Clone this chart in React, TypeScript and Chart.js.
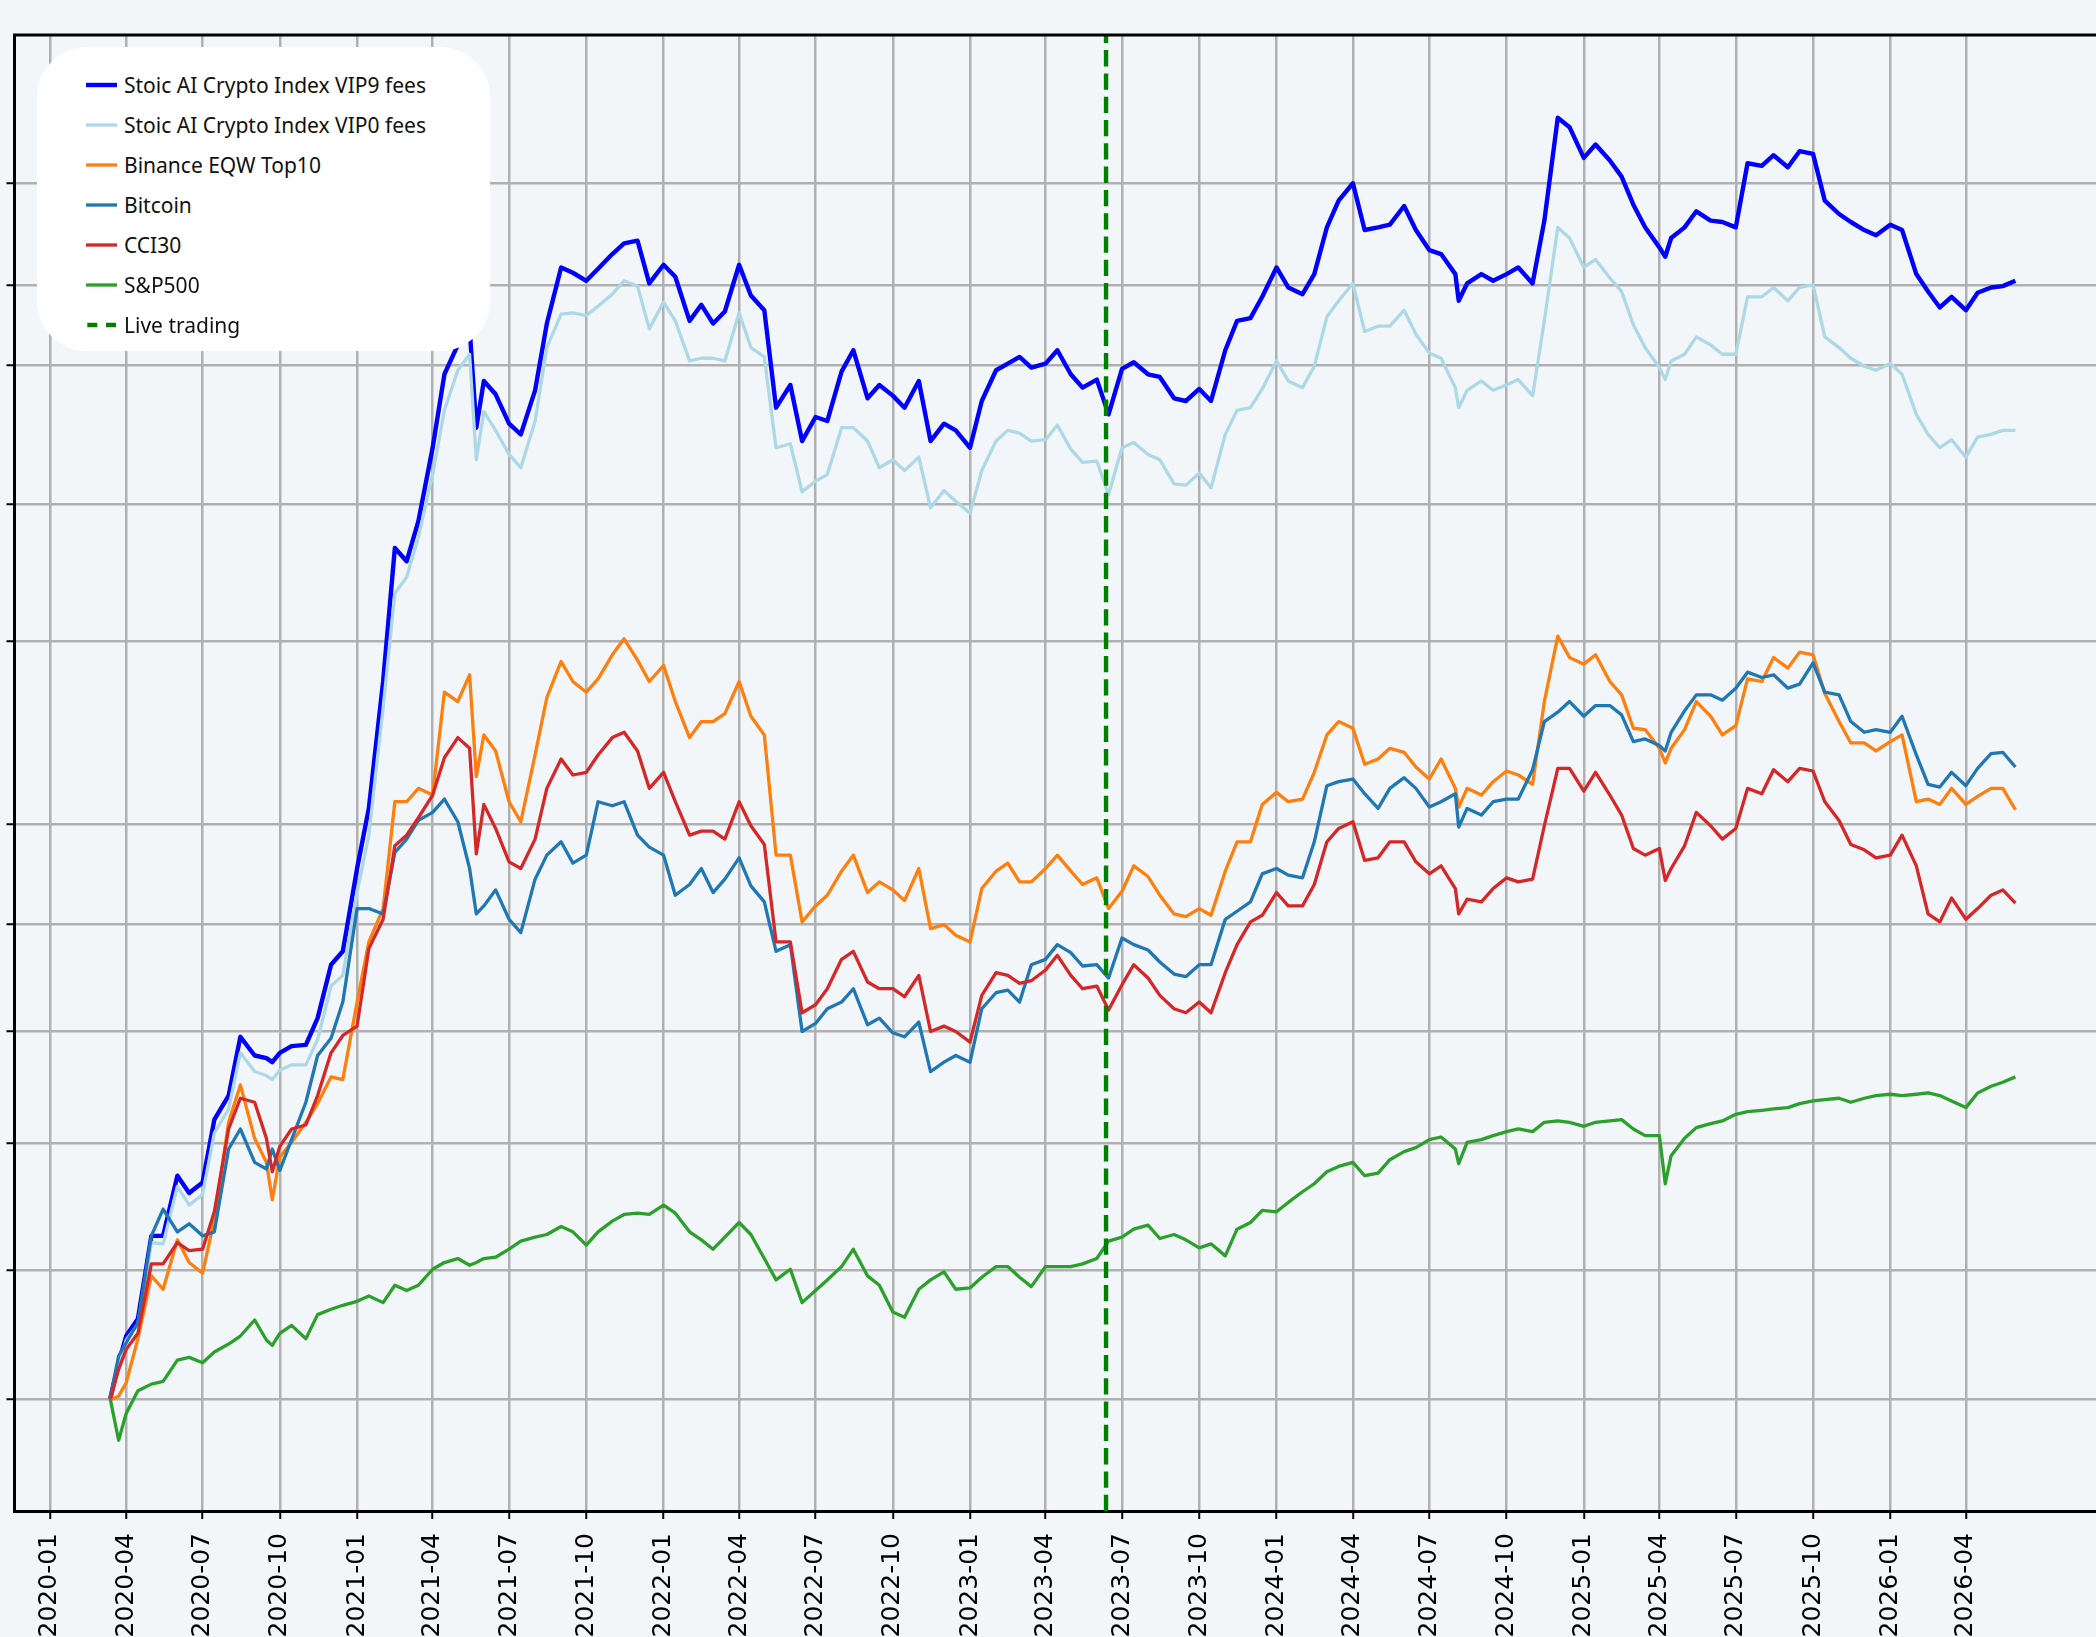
import React, { useEffect, useRef } from 'react';
import { Chart, registerables } from 'chart.js';

Chart.register(...registerables);

// ---- Data (y in chart units, axis labels are hidden) ----
const dates = [
  '2020-03-13','2020-03-23','2020-04-01','2020-04-15','2020-05-01','2020-05-15','2020-06-01','2020-06-15','2020-07-01','2020-07-15',
  '2020-08-01','2020-08-15','2020-09-01','2020-09-15','2020-09-22','2020-10-01','2020-10-15','2020-11-01','2020-11-15','2020-12-01','2020-12-15',
  '2021-01-01','2021-01-15','2021-02-01','2021-02-15','2021-03-01','2021-03-15','2021-04-01','2021-04-15','2021-05-01','2021-05-15','2021-05-23',
  '2021-06-01','2021-06-15','2021-07-01','2021-07-15','2021-08-01','2021-08-15','2021-09-01','2021-09-15','2021-10-01','2021-10-15',
  '2021-11-01','2021-11-15','2021-12-01','2021-12-15','2022-01-01','2022-01-15','2022-02-01','2022-02-15','2022-03-01','2022-03-15',
  '2022-04-01','2022-04-15','2022-05-01','2022-05-15','2022-06-01','2022-06-15','2022-07-01','2022-07-15','2022-08-01','2022-08-15',
  '2022-09-01','2022-09-15','2022-10-01','2022-10-15','2022-11-01','2022-11-15','2022-12-01','2022-12-15','2023-01-01','2023-01-15',
  '2023-02-01','2023-02-15','2023-03-01','2023-03-15','2023-04-01','2023-04-15','2023-05-01','2023-05-15','2023-06-01','2023-06-15',
  '2023-07-01','2023-07-15','2023-08-01','2023-08-15','2023-09-01','2023-09-15','2023-10-01','2023-10-15','2023-11-01','2023-11-15',
  '2023-12-01','2023-12-15','2024-01-01','2024-01-15','2024-02-01','2024-02-15','2024-03-01','2024-03-15','2024-04-01','2024-04-15',
  '2024-05-01','2024-05-15','2024-06-01','2024-06-15','2024-07-01','2024-07-15','2024-08-01','2024-08-05','2024-08-15','2024-09-01','2024-09-15',
  '2024-10-01','2024-10-15','2024-11-01','2024-11-15','2024-12-01','2024-12-15','2025-01-01','2025-01-15','2025-02-01','2025-02-15',
  '2025-03-01','2025-03-15','2025-04-01','2025-04-08','2025-04-15','2025-05-01','2025-05-15','2025-06-01','2025-06-15','2025-07-01','2025-07-15',
  '2025-08-01','2025-08-15','2025-09-01','2025-09-15','2025-10-01','2025-10-15','2025-11-01','2025-11-15','2025-12-01','2025-12-15',
  '2026-01-01','2026-01-15','2026-02-01','2026-02-15','2026-03-01','2026-03-15','2026-04-01','2026-04-15','2026-05-01','2026-05-15',
  '2026-05-30',
];

const vip9 = [
  84,111,131,144,206,206,251,238,246,293,
  311,355,341,339,336,343,348,349,369,409,419,
  481,526,621,721,711,741,796,851,873,886,811,
  846,836,814,806,839,889,931,927,921,930,
  941,949,951,919,933,924,891,903,889,898,
  933,910,899,826,843,801,819,816,853,869,
  833,843,835,826,846,801,814,809,796,831,
  854,859,864,856,859,869,851,841,847,821,
  855,860,851,849,833,831,840,831,869,891,
  893,909,931,916,911,926,961,981,994,959,
  961,963,977,959,944,941,926,906,919,926,921,
  926,931,919,966,1043,1036,1013,1023,1011,999,
  978,961,946,939,953,961,973,966,965,961,1009,
  1007,1015,1006,1018,1016,981,971,965,959,955,
  963,959,926,913,901,909,899,912,916,917,
  921,
];

const vip0 = [
  83,109,128,140,201,200,243,229,237,283,
  301,343,329,326,323,330,334,334,353,393,401,
  463,506,601,687,699,729,776,824,854,866,787,
  823,809,791,781,816,871,896,897,895,902,
  911,921,917,885,905,891,861,863,863,861,
  897,871,864,796,799,763,771,776,811,811,
  801,781,787,779,789,751,764,756,747,779,
  801,809,807,801,802,813,795,785,786,761,
  796,800,791,787,769,768,777,766,806,824,
  826,840,861,846,841,857,894,906,919,883,
  887,887,899,881,867,863,841,826,839,846,839,
  843,847,835,891,961,953,931,937,923,913,
  888,871,856,847,861,866,879,873,866,866,909,
  909,916,906,916,918,879,871,863,857,854,
  859,851,821,806,796,802,789,804,806,809,
  809,
];

const binance = [
  83,86,96,129,176,166,203,186,178,218,
  291,319,279,261,233,265,276,291,305,325,323,
  381,426,451,531,531,541,536,613,606,626,550,
  581,569,531,516,566,609,636,621,613,623,
  641,653,637,621,633,606,579,591,591,597,
  621,595,581,491,491,441,453,461,479,491,
  463,471,465,457,481,436,439,431,426,466,
  479,485,471,471,481,491,479,469,474,451,
  464,483,475,461,447,445,451,446,479,501,
  501,529,538,531,533,553,581,591,586,559,
  563,571,568,557,548,563,541,527,541,536,546,
  554,551,544,606,655,639,634,641,621,611,
  586,585,571,560,571,585,606,595,581,588,623,
  621,639,631,643,641,612,591,575,575,569,
  576,581,531,533,529,541,529,535,541,541,
  525,
];

const bitcoin = [
  85,116,126,141,206,226,209,215,206,209,
  271,286,261,256,271,255,278,306,341,354,381,
  451,451,447,493,503,517,523,533,516,481,447,
  453,465,443,433,473,491,501,485,491,531,
  528,531,506,497,491,461,469,481,463,473,
  489,468,456,419,424,359,365,376,381,391,
  364,369,358,355,366,329,336,341,336,376,
  388,390,381,409,413,424,418,408,409,399,
  429,424,420,411,402,400,409,409,443,449,
  456,477,481,476,474,501,543,546,548,537,
  526,541,549,541,527,531,537,512,526,521,531,
  533,533,555,591,598,606,595,603,603,596,
  576,578,573,569,583,599,611,611,607,616,628,
  624,626,616,619,635,613,611,591,583,585,
  583,595,566,544,542,553,543,556,567,568,
  557,
];

const cci30 = [
  83,106,121,133,185,185,201,195,196,224,
  286,309,306,279,254,273,286,289,311,343,356,
  363,421,443,498,506,519,536,564,579,571,492,
  529,511,486,481,503,541,563,551,553,566,
  579,583,569,541,553,531,506,509,509,503,
  531,513,499,426,426,373,379,391,413,419,
  396,391,391,385,401,359,363,359,351,386,
  403,401,395,397,405,416,401,391,393,375,
  394,409,399,386,376,373,381,373,403,424,
  441,446,463,453,453,469,501,511,516,487,
  489,501,501,486,477,483,466,447,458,456,466,
  474,471,473,513,556,556,539,553,536,521,
  496,491,496,472,481,498,523,513,503,511,541,
  537,555,546,556,554,531,517,499,495,489,
  491,506,483,447,441,459,443,451,461,465,
  455,
];

const sp500 = [
  84,53,73,90,95,97,113,115,111,119,
  125,131,143,128,124,133,139,129,147,151,154,
  157,161,156,169,165,169,181,186,189,184,186,
  189,190,196,202,205,207,213,209,199,209,
  217,222,223,222,229,223,209,203,196,205,
  216,207,189,173,181,156,165,173,183,196,
  176,169,149,145,166,173,179,166,167,175,
  183,183,175,168,183,183,183,185,189,202,
  205,211,214,204,207,203,197,200,191,211,
  216,225,224,231,239,245,254,258,261,251,
  253,263,269,272,278,280,271,260,276,278,281,
  284,286,284,291,292,291,288,291,292,293,
  286,281,281,245,266,279,287,290,292,297,299,
  300,301,302,305,307,308,309,306,309,311,
  312,311,312,313,311,307,302,313,318,321,
  325,
];

const xTickLabels = [
  '2020-01','2020-04','2020-07','2020-10','2021-01','2021-04','2021-07','2021-10',
  '2022-01','2022-04','2022-07','2022-10','2023-01','2023-04','2023-07','2023-10',
  '2024-01','2024-04','2024-07','2024-10','2025-01','2025-04','2025-07','2025-10',
  '2026-01','2026-04',
];

const yGridValues = [84, 180, 275, 359, 439, 514, 651, 754, 858, 918, 994];
const liveTradingDate = '2023-06-12';
const xRange = ['2019-11-20', '2026-09-03'];
const yRange = [0, 1105];

const seriesDefs = [
  { label: 'Stoic AI Crypto Index VIP9 fees', values: vip9, color: '#0000ff', width: 4.4 },
  { label: 'Stoic AI Crypto Index VIP0 fees', values: vip0, color: '#add8e6', width: 3.3 },
  { label: 'Binance EQW Top10', values: binance, color: '#ff7f0e', width: 3.3 },
  { label: 'Bitcoin', values: bitcoin, color: '#1f77b4', width: 3.3 },
  { label: 'CCI30', values: cci30, color: '#d62728', width: 3.3 },
  { label: 'S&P500', values: sp500, color: '#2ca02c', width: 3.3 },
];
const liveDef = { label: 'Live trading', color: '#008000', width: 4.4 };

const dayOf = (s: string) => {
  const [y, m, d] = s.split('-').map(Number);
  return (Date.UTC(y, m - 1, d || 1) - Date.UTC(2020, 0, 1)) / 86400000;
};

const W = 2096;
const H = 1637;
const BG = '#f3f6f9';

export default function App() {
  const ref = useRef<HTMLCanvasElement>(null);

  useEffect(() => {
    const canvas = ref.current;
    if (!canvas) return;
    const xTickDays = xTickLabels.map((l) => dayOf(l + '-01'));
    const labelByDay = new Map<number, string>(xTickDays.map((d, i) => [d, xTickLabels[i]]));
    const xs = dates.map(dayOf);

    const datasets: any[] = seriesDefs.map((s, i) => ({
      label: s.label,
      data: s.values.map((v, j) => ({ x: xs[j], y: v })),
      borderColor: s.color,
      backgroundColor: s.color,
      borderWidth: s.width,
      pointRadius: 0,
      tension: 0,
      fill: false,
      borderJoinStyle: 'round',
      order: seriesDefs.length + 1 - i,
    }));
    const liveDay = dayOf(liveTradingDate);
    datasets.push({
      label: liveDef.label,
      data: [
        { x: liveDay, y: yRange[0] },
        { x: liveDay, y: yRange[1] },
      ],
      borderColor: liveDef.color,
      backgroundColor: liveDef.color,
      borderWidth: liveDef.width,
      borderDash: [16.3, 7],
      pointRadius: 0,
      fill: false,
      order: 0,
    });

    const topSpine = {
      id: 'topSpine',
      afterDraw(chart: any) {
        const { ctx, chartArea } = chart;
        ctx.save();
        ctx.strokeStyle = '#000';
        ctx.lineWidth = 3;
        ctx.beginPath();
        ctx.moveTo(chartArea.left - 1.5, chartArea.top);
        ctx.lineTo(chartArea.right, chartArea.top);
        ctx.stroke();
        ctx.restore();
      },
    };

    const chart = new Chart(canvas, {
      type: 'line',
      data: { datasets },
      plugins: [topSpine],
      options: {
        animation: false,
        responsive: false,
        devicePixelRatio: 1,
        events: [],
        layout: { padding: { top: 35, left: 0, right: 0, bottom: 0 } },
        plugins: { legend: { display: false }, tooltip: { enabled: false } },
        scales: {
          x: {
            type: 'linear',
            min: dayOf(xRange[0]),
            max: dayOf(xRange[1]),
            afterBuildTicks: (scale: any) => {
              scale.ticks = xTickDays.map((v) => ({ value: v }));
            },
            afterFit: (scale: any) => {
              scale.height = H - 1511;
            },
            ticks: {
              autoSkip: false,
              minRotation: 90,
              maxRotation: 90,
              padding: 14,
              color: '#000',
              font: { family: 'DejaVu Sans', size: 25 },
              callback: (v: any) => labelByDay.get(Number(v)) ?? '',
            },
            grid: {
              color: '#b0b0b0',
              lineWidth: 2.5,
              tickColor: '#000',
              tickWidth: 2,
              tickLength: 8,
              drawTicks: true,
            },
            border: { display: true, color: '#000', width: 3 },
          },
          y: {
            type: 'linear',
            min: yRange[0],
            max: yRange[1],
            afterBuildTicks: (scale: any) => {
              scale.ticks = yGridValues.map((v) => ({ value: v }));
            },
            afterFit: (scale: any) => {
              scale.width = 14.5;
            },
            ticks: { display: false },
            grid: {
              color: '#b0b0b0',
              lineWidth: 2.5,
              tickColor: '#000',
              tickWidth: 2,
              tickLength: 8,
              drawTicks: true,
            },
            border: { display: true, color: '#000', width: 3 },
          },
        },
      } as any,
    });
    return () => chart.destroy();
  }, []);

  const legendItems = [
    ...seriesDefs.map((s) => ({ label: s.label, color: s.color, width: s.width, dashed: false })),
    { label: liveDef.label, color: liveDef.color, width: liveDef.width, dashed: true },
  ];

  return (
    <div style={{ position: 'absolute', left: 0, top: 0, width: W, height: H, background: BG, overflow: 'hidden' }}>
      <canvas ref={ref} width={W} height={H} style={{ display: 'block', width: W, height: H }} />
      <div
        style={{
          position: 'absolute',
          left: 37,
          top: 47,
          width: 453,
          height: 304,
          background: '#ffffff',
          borderRadius: 50,
        }}
      >
        {legendItems.map((it, i) => (
          <div
            key={it.label}
            style={{
              position: 'absolute',
              left: 49,
              top: 38 + 40 * i - 15,
              height: 30,
              display: 'flex',
              alignItems: 'center',
              whiteSpace: 'nowrap',
            }}
          >
            <svg width={31} height={10} style={{ marginRight: 7, display: 'block' }}>
              <line
                x1={it.dashed ? 1.3 : 0}
                y1={5}
                x2={31}
                y2={5}
                stroke={it.color}
                strokeWidth={it.width}
                strokeDasharray={it.dashed ? '10 8.7' : undefined}
              />
            </svg>
            <span style={{ fontFamily: '"Noto Sans", "Open Sans", sans-serif', fontSize: 21, color: '#111', lineHeight: '30px' }}>
              {it.label}
            </span>
          </div>
        ))}
      </div>
    </div>
  );
}
